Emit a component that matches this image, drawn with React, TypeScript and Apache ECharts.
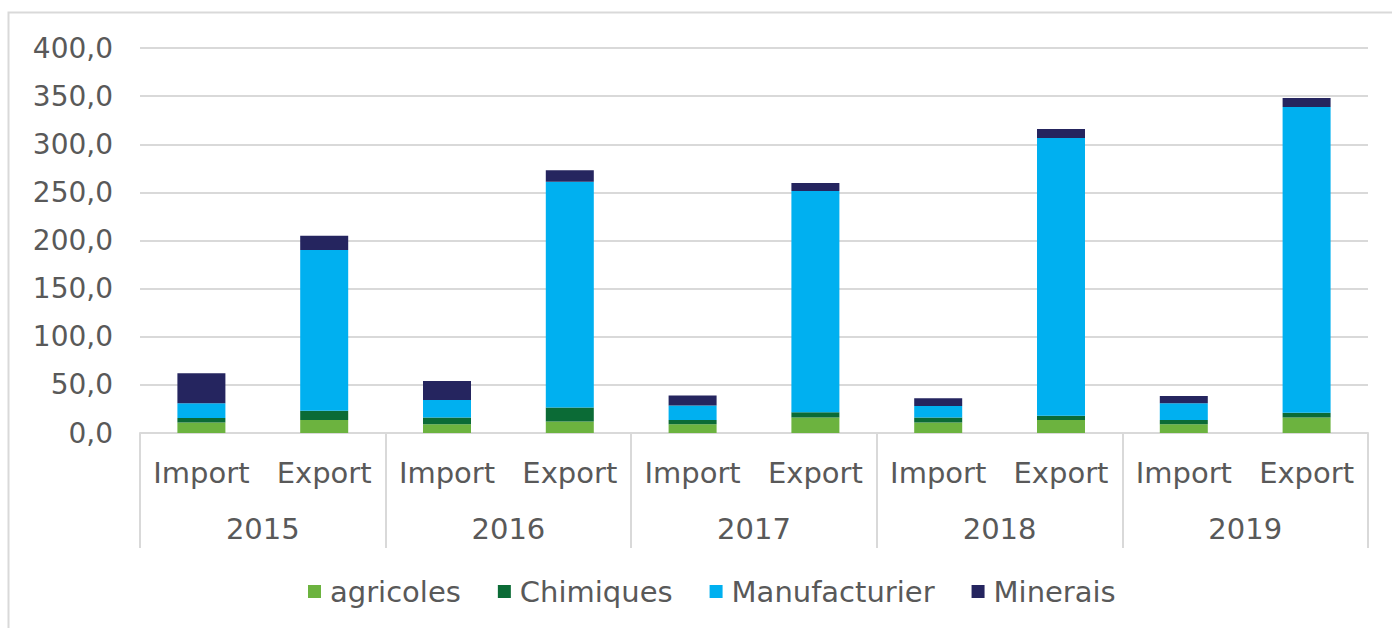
import React, { useEffect, useRef } from "react";
import * as echarts from "echarts";

const years = ["2015", "2016", "2017", "2018", "2019"];
const categories = ["Import", "Export", "Import", "Export", "Import", "Export", "Import", "Export", "Import", "Export"];
const yTicks = [0, 50, 100, 150, 200, 250, 300, 350, 400];

const agricoles = [11, 13.5, 9, 12, 9, 16, 11, 13.5, 9, 16];
const chimiques = [4.5, 9.7, 7, 14.5, 4.5, 5.5, 5, 4.5, 4.5, 5];
const manufacturier = [15.5, 167, 18.4, 234.5, 15, 230, 12, 288.5, 17.3, 317.7];
const minerais = [31, 14.7, 19.7, 12, 10.4, 8.3, 8, 9.3, 7.6, 9.3];

const seriesNames = ["agricoles", "Chimiques", "Manufacturier", "Minerais"];
const seriesColors = ["#6cb33f", "#0b6b36", "#00b0f0", "#25255f"];
const seriesData = [agricoles, chimiques, manufacturier, minerais];

export default function App() {
  const ref = useRef<HTMLDivElement>(null);
  useEffect(() => {
    if (!ref.current) return;
    const chart = echarts.init(ref.current, null, { renderer: "svg" });
    const font = "'DejaVu Sans', Verdana, sans-serif";
    const textColor = "#595959";
    chart.setOption({
      animation: false,
      backgroundColor: "#ffffff",
      textStyle: { fontFamily: font },
      graphic: [
        {
          type: "rect",
          shape: { x: 8.5, y: 12.5, width: 1500, height: 800 },
          style: { fill: "none", stroke: "#d9d9d9", lineWidth: 2 },
          silent: true,
        },
      ],
      grid: { left: 140, right: 24, top: 48, bottom: 195, containLabel: false },
      legend: {
        data: seriesNames,
        left: 303,
        top: 572,
        icon: "rect",
        itemWidth: 13,
        itemHeight: 13,
        itemGap: 37,
        textStyle: { fontFamily: font, fontSize: 29, color: textColor, padding: [0, 0, 0, 4] },
      },
      xAxis: [
        {
          type: "category",
          data: categories,
          position: "bottom",
          axisLine: { show: true, lineStyle: { color: "#d9d9d9", width: 2 } },
          axisTick: { show: false },
          axisLabel: { interval: 0, margin: 25, fontSize: 29, color: textColor, fontFamily: font },
        },
        {
          type: "category",
          data: years,
          position: "bottom",
          axisLine: { show: false },
          axisTick: { show: true, interval: 0, length: 115, lineStyle: { color: "#d9d9d9", width: 2 } },
          axisLabel: { interval: 0, margin: 81, fontSize: 29, color: textColor, fontFamily: font },
        },
      ],
      yAxis: {
        type: "value",
        min: yTicks[0],
        max: yTicks[yTicks.length - 1],
        interval: 50,
        axisLine: { show: false },
        axisTick: { show: false },
        splitLine: { lineStyle: { color: "#d9d9d9", width: 2 } },
        axisLabel: {
          margin: 27,
          fontSize: 28,
          color: textColor,
          fontFamily: font,
          formatter: (v: number) => v.toFixed(1).replace(".", ","),
        },
      },
      series: seriesNames.map((name, i) => ({
        name,
        type: "bar",
        stack: "total",
        xAxisIndex: 0,
        barWidth: 48,
        itemStyle: { color: seriesColors[i] },
        data: seriesData[i],
      })),
    });
    return () => chart.dispose();
  }, []);
  return <div ref={ref} style={{ position: "fixed", left: 0, top: 0, width: 1392, height: 628 }} />;
}
